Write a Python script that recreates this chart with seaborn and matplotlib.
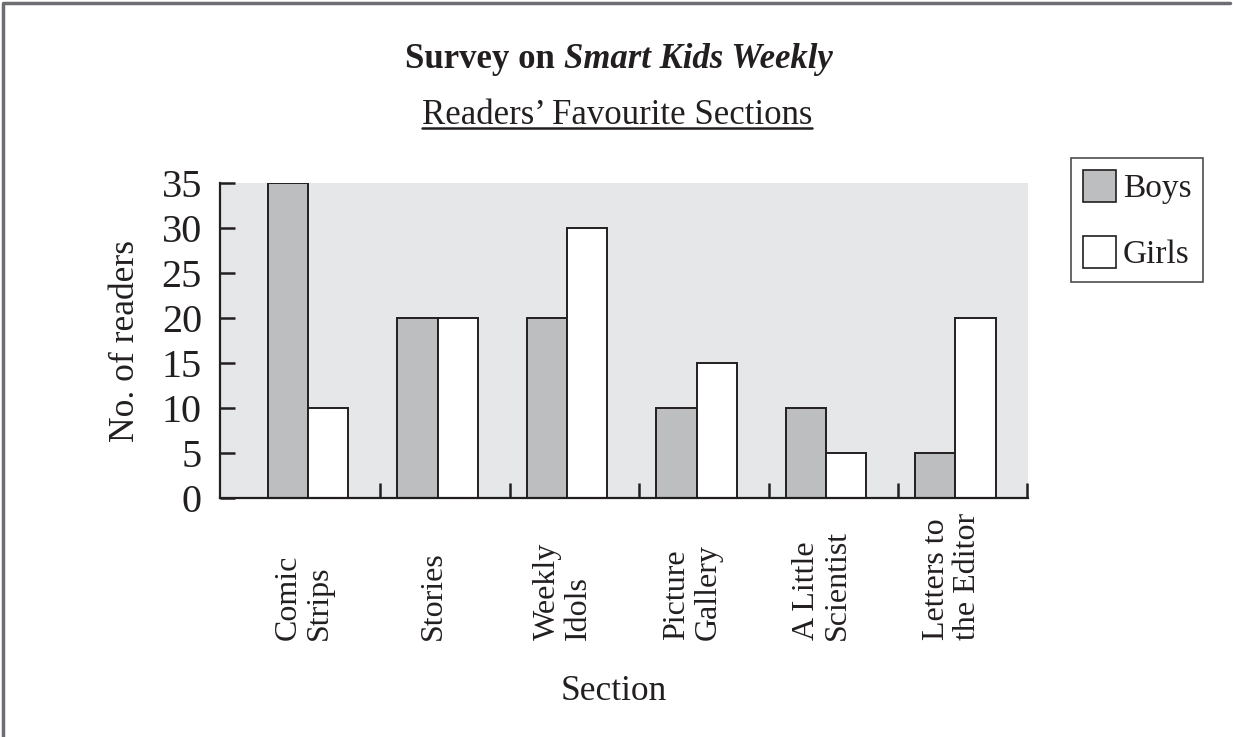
import matplotlib
matplotlib.use("Agg")
import matplotlib.pyplot as plt
import seaborn as sns
import pandas as pd
from matplotlib.lines import Line2D
from matplotlib.patches import Patch
import matplotlib.transforms as mtransforms

sections = ["Comic Strips", "Stories", "Weekly Idols", "Picture Gallery",
            "A Little Scientist", "Letters to the Editor"]
section_labels = ["Comic\nStrips", "Stories", "Weekly\nIdols", "Picture\nGallery",
                  "A Little\nScientist", "Letters to\nthe Editor"]
boys = [35, 20, 20, 10, 10, 5]
girls = [10, 20, 30, 15, 5, 20]
yticks = [0, 5, 10, 15, 20, 25, 30, 35]

sns.set_theme(style="white")
plt.rcParams["font.family"] = ["Liberation Serif", "DejaVu Serif"]

df = pd.DataFrame({
    "Section": sections * 2,
    "Readers": boys + girls,
    "Gender": ["Boys"] * len(sections) + ["Girls"] * len(sections),
})

INK = "#231f20"
BOYS_C = "#bcbec0"
BG = "#e6e7e8"

fig = plt.figure(figsize=(12.33, 7.37), dpi=100)
fig.patch.set_facecolor("white")
ax = fig.add_axes([220 / 1233, 1 - 498 / 737, 808 / 1233, 315 / 737])
ax.set_facecolor(BG)

sns.barplot(data=df, x="Section", y="Readers", hue="Gender", order=sections,
            palette=[BOYS_C, "white"], edgecolor=INK, linewidth=1.4,
            width=0.62, gap=0, ax=ax, legend=False, saturation=1)

ax.set_xlim(-0.68, 5.56)
ax.set_ylim(0, 35)
ax.set_yticks(yticks)
ax.set_yticklabels([str(v) for v in yticks], fontsize=29, color=INK)
ax.set_xticks([i + 0.556 for i in range(len(sections))])
ax.set_xticklabels([])
ax.tick_params(axis="both", direction="in", length=11, width=1.8, color=INK,
               left=True, bottom=True, pad=4)
ax.tick_params(axis="y", pad=13)
for s in ["top", "right"]:
    ax.spines[s].set_visible(False)
for s in ["left", "bottom"]:
    ax.spines[s].set_color(INK)
    ax.spines[s].set_linewidth(1.6)
ax.set_xlabel("")
ax.set_ylabel("No. of readers", fontsize=25.5, color=INK, labelpad=14)

trans = mtransforms.blended_transform_factory(ax.transData, ax.transAxes)
for i, lab in enumerate(section_labels):
    ax.text(i - 0.03, -0.45, lab, rotation=90, ha="center", va="bottom",
            ma="left", fontsize=23, color=INK, linespacing=1.1,
            transform=trans)

fig.text(614 / 1233, 1 - 692 / 737, "Section", ha="center", va="center",
         fontsize=25.5, color=INK)

# Title: bold + bold italic
renderer = fig.canvas.get_renderer()
t1 = fig.text(0, 1 - 59 / 737, "Survey on ", fontsize=25, fontweight="bold",
              va="center", ha="left", color=INK)
t2 = fig.text(0, 1 - 59 / 737, "Smart Kids Weekly", fontsize=25,
              fontweight="bold", fontstyle="italic", va="center", ha="left",
              color=INK)
w1 = t1.get_window_extent(renderer).width
w2 = t2.get_window_extent(renderer).width
start = 619 - (w1 + w2) / 2
t1.set_x(start / 1233)
t2.set_x((start + w1) / 1233)

sub = fig.text(617 / 1233, 1 - 115 / 737, "Readers\u2019 Favourite Sections",
               fontsize=25, ha="center", va="center", color=INK)
bb = sub.get_window_extent(renderer)
fig.add_artist(Line2D([bb.x0 / 1233, bb.x1 / 1233],
                      [1 - 128 / 737, 1 - 128 / 737],
                      transform=fig.transFigure, color=INK, lw=1.8))

handles = [Patch(facecolor=BOYS_C, edgecolor=INK, linewidth=1.2, label="Boys"),
           Patch(facecolor="white", edgecolor=INK, linewidth=1.2, label="Girls")]
leg = fig.legend(handles=handles, loc="upper left",
                 bbox_to_anchor=(1071 / 1233, 1 - 158 / 737),
                 fontsize=24, frameon=True, fancybox=False,
                 handlelength=1.0, handleheight=1.1, handletextpad=0.2,
                 labelspacing=0.95, borderpad=0.35, borderaxespad=0)
leg.get_frame().set_edgecolor(INK)
leg.get_frame().set_linewidth(1.2)
for txt in leg.get_texts():
    txt.set_color(INK)

# outer frame
fig.add_artist(Line2D([3 / 1233, 3 / 1233, 1230 / 1233],
                      [0, 1 - 3 / 737, 1 - 3 / 737],
                      transform=fig.transFigure, color="#6d6e71", lw=2.5))

fig.savefig("out.png", dpi=100, facecolor="white")
